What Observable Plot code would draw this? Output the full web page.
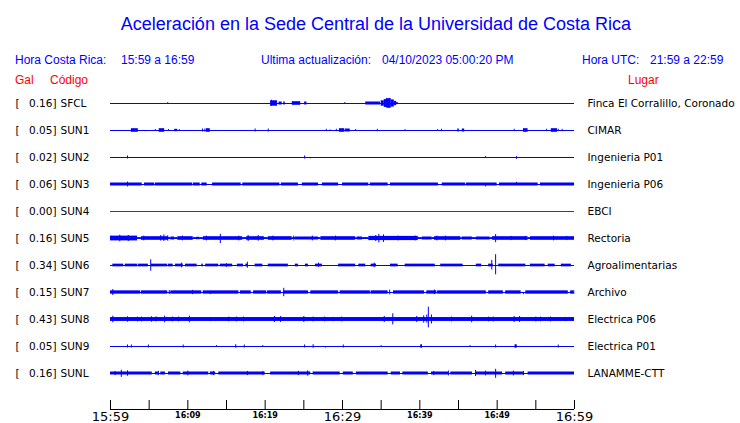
<!DOCTYPE html>
<html><head><meta charset="utf-8">
<script src="https://cdn.jsdelivr.net/npm/d3@7"></script>
<script src="https://cdn.jsdelivr.net/npm/@observablehq/plot@0.6"></script>
<style>
html,body{margin:0;padding:0;background:#fff;}
#page{position:relative;width:740px;height:423px;overflow:hidden;font-family:"Liberation Sans",Arial,sans-serif;}
#head{position:relative;height:88px;}
.t{position:absolute;white-space:pre;line-height:1;}
.b{color:#0000ff;font-size:12px;top:54px;}
.r{color:#ff0000;font-size:12px;top:74px;}
</style></head><body>
<div id="page">
<div id="head">
 <div class="t" style="left:6px;width:740px;text-align:center;top:15px;font-size:18px;color:#0000ff">Aceleración en la Sede Central de la Universidad de Costa Rica</div>
 <div class="t b" style="left:15px">Hora Costa Rica:</div>
 <div class="t b" style="left:121px">15:59 a 16:59</div>
 <div class="t b" style="left:261px">Ultima actualización:</div>
 <div class="t b" style="left:382px">04/10/2023 05:00:20 PM</div>
 <div class="t b" style="left:582px">Hora UTC:</div>
 <div class="t b" style="left:650px">21:59 a 22:59</div>
 <div class="t r" style="left:15px">Gal</div>
 <div class="t r" style="left:50px">Código</div>
 <div class="t r" style="left:628px">Lugar</div>
</div>
<div id="chart"></div>
</div>
<script>
// ---- stations ----
const codes = ["SFCL","SUN1","SUN2","SUN3","SUN4","SUN5","SUN6","SUN7","SUN8","SUN9","SUNL"];
const galValues = [0.16,0.05,0.02,0.06,0.00,0.16,0.34,0.15,0.43,0.05,0.16];
const places = ["Finca El Corralillo, Coronado","CIMAR","Ingenieria P01","Ingenieria P06","EBCI","Rectoria","Agroalimentarias","Archivo","Electrica P06","Electrica P01","LANAMME-CTT"];
const status = ["on","on","on","on","off","on","on","on","on","on","on"];

// ---- time axis (minutes after 15:59) ----
const tickMinutes = [0,5,10,15,20,25,30,35,40,45,50,55,60];
const majorMinutes = [0,30,60];
const majorLabels = ["15:59","16:29","16:59"];
const minorMinutes = [10,20,40,50];
const minorLabels = ["16:09","16:19","16:39","16:49"];

// ---- trace envelopes: bands [start min, end min, half-amplitude Gal] ----
const bandsSFCL = [[20.7,21.6,0.09],[21.8,22.2,0.05],[22.4,22.6,0.05],[23.5,24.6,0.06],[25.1,25.4,0.05],[33.0,34.9,0.05],[35.0,35.4,0.09],[35.4,35.8,0.13],[35.8,36.3,0.16],[36.3,36.7,0.12],[36.7,37.0,0.07],[37.0,37.2,0.035]];
const bandsSUN1 = [[2.7,3.6,0.06],[6.3,7.0,0.06],[8.3,8.7,0.04],[12.4,12.9,0.06],[29.6,30.3,0.06],[30.4,31.0,0.05],[44.9,45.1,0.05],[45.5,45.8,0.05],[53.4,54.0,0.06],[57.0,57.8,0.06]];
const bandsSUN2 = [];
const bandsSUN3 = [[0,4.1,0.05],[4.4,5.7,0.05],[5.8,10.6,0.05],[10.7,11.6,0.05],[11.8,12.5,0.05],[13.2,16.9,0.05],[17.1,21.9,0.05],[22.1,24.3,0.05],[24.8,26.9,0.05],[27.4,29.5,0.05],[30.0,33.4,0.05],[33.6,35.9,0.05],[36.2,42.4,0.05],[42.9,45.9,0.05],[46.0,50.0,0.05],[50.3,55.3,0.05],[55.6,60,0.05]];
const bandsSUN4 = [];
const bandsSUN5 = [[0,3.5,0.08],[3.5,4.0,0.03],[4.0,7.5,0.06],[7.5,7.8,0.03],[7.8,8.3,0.05],[8.3,8.7,0.03],[8.7,10.7,0.06],[10.7,11.1,0.03],[11.1,11.6,0.04],[11.6,12.0,0.03],[12.0,17.1,0.06],[17.1,17.6,0.03],[17.6,19.9,0.06],[19.9,20.4,0.03],[20.4,23.5,0.06],[23.5,23.9,0.03],[23.9,26.9,0.05],[26.9,27.2,0.03],[27.2,31.7,0.06],[31.7,31.9,0.03],[31.9,32.6,0.05],[32.6,33.4,0.03],[33.4,39.8,0.07],[39.8,40.3,0.03],[40.3,41.6,0.05],[41.6,41.9,0.03],[41.9,45.3,0.06],[45.3,45.5,0.03],[45.5,46.8,0.05],[46.8,47.3,0.03],[47.3,49.1,0.05],[49.1,49.4,0.03],[49.4,54.0,0.06],[54.0,54.3,0.03],[54.3,60,0.06]];
const bandsSUN6 = [[0.3,1.7,0.045],[1.9,3.5,0.045],[3.6,4.9,0.045],[5.3,7.4,0.045],[7.5,8.1,0.045],[8.4,9.4,0.045],[9.7,11.2,0.045],[11.8,12.0,0.045],[12.3,14.0,0.045],[14.2,15.8,0.045],[16.4,17.2,0.045],[17.5,17.8,0.045],[18.7,19.7,0.045],[20.4,23.0,0.045],[23.9,24.3,0.045],[25.2,25.6,0.045],[26.5,27.4,0.045],[29.5,31.7,0.045],[32.1,33.0,0.045],[33.7,34.4,0.045],[36.2,37.2,0.045],[38.1,42.0,0.045],[42.7,45.6,0.045],[47.3,48.0,0.045],[48.9,49.5,0.045],[50.2,53.7,0.045],[54.3,56.2,0.045],[56.6,57.5,0.045],[58.3,59.6,0.045]];
const bandsSUN7 = [[0,3.9,0.055],[4.0,7.4,0.055],[7.8,10.6,0.055],[10.7,11.8,0.055],[12.0,16.6,0.055],[16.8,18.2,0.055],[18.5,20.2,0.055],[20.4,22.1,0.055],[22.4,25.6,0.055],[25.9,29.5,0.055],[29.7,33.6,0.055],[33.7,35.9,0.055],[36.6,40.6,0.055],[40.9,42.2,0.055],[42.3,48.6,0.055],[48.9,50.8,0.055],[51.1,53.1,0.055],[53.7,59.2,0.055],[59.5,59.9,0.055]];
const bandsSUN8 = [[0,60,0.065]];
const bandsSUN9 = [[40.1,40.3,0.05],[52.3,52.6,0.05]];
const bandsSUNL = [[0,5.4,0.05],[5.8,6.2,0.05],[6.5,7.1,0.05],[7.5,9.1,0.05],[9.4,12.7,0.05],[12.9,13.6,0.05],[14.0,20.0,0.05],[20.7,25.9,0.05],[26.2,29.7,0.05],[30.1,31.4,0.05],[31.8,35.9,0.05],[36.3,37.5,0.05],[37.8,41.1,0.05],[41.5,43.7,0.05],[44.0,46.8,0.05],[47.2,50.7,0.05],[51.1,53.4,0.05],[54.0,60,0.05]];

// ---- spikes: [minute, up Gal, down Gal] ----
const spikesSFCL = [[7.4,0.03,0],[20.8,0.11,0.10],[30.3,0.03,0],[35.7,0.17,0.15],[36.1,0.17,0.13]];
const spikesSUN1 = [[0.5,0,0.03],[4.5,0,0.04],[5.8,0.03,0],[7.5,0.03,0],[8.9,0.03,0],[11.9,0.05,0.05],[12.2,0.05,0.05],[18.7,0.05,0.05],[20.4,0.05,0.05],[27.9,0.04,0.04],[28.4,0.02,0],[29.2,0.04,0.04],[31.7,0.03,0],[34.5,0.04,0.04],[38.1,0.03,0],[42.3,0.03,0],[42.8,0.04,0.04],[46.9,0,0.03],[48.5,0,0.03],[52.2,0.04,0.04],[54.7,0,0.03],[56.4,0.04,0.04],[57.9,0.04,0.04],[58.4,0.04,0.04]];
const spikesSUN2 = [[2.2,0.05,0.05],[8.7,0,0.03],[25.1,0.05,0.05],[25.8,0,0.04],[25.9,0,0.04],[48.5,0.03,0],[52.5,0.03,0.06]];
const spikesSUN3 = [[2.2,0.08,0.08],[48.5,0,0.08],[52.5,0.07,0]];
const spikesSUN4 = [];
const spikesSUN5 = [[1.2,0.11,0.11],[2.3,0.10,0.10],[4.3,0.08,0.08],[6.5,0.10,0.09],[6.9,0.12,0.10],[7.4,0.09,0.09],[9.3,0.08,0.08],[12.4,0.08,0.08],[14.2,0.14,0.17],[16.6,0.08,0.08],[17.8,0.10,0.10],[19.1,0.10,0.09],[21.0,0.08,0.08],[23.7,0.08,0.08],[26.1,0.08,0.08],[29.1,0.08,0.08],[34.3,0.10,0.10],[34.7,0.14,0.15],[35.3,0.12,0.13],[37.2,0.08,0.08],[39.4,0.08,0.08],[42.2,0.08,0.08],[43.3,0.08,0.08],[49.8,0.13,0.14],[51.8,0.07,0.07],[53.7,0.07,0.07],[57.3,0.08,0.08],[59.0,0.07,0.07]];
const spikesSUN6 = [[5.2,0.19,0.19],[9.2,0.08,0.08],[15.0,0.06,0.06],[17.7,0.11,0.09],[26.9,0.08,0.06],[34.1,0.08,0.07],[49.3,0.17,0.15],[49.8,0.36,0.31]];
const spikesSUN7 = [[0.3,0.10,0.10],[7.6,0.07,0.07],[10.6,0.07,0.07],[12.9,0,0.07],[20.3,0.05,0.05],[22.4,0.14,0.14],[36.1,0.08,0.08],[41.9,0.08,0.07],[53.4,0,0.07],[59.9,0.06,0.06]];
const spikesSUN8 = [[0.3,0.11,0.11],[2.2,0.09,0.09],[3.5,0.08,0.08],[4.0,0.08,0.08],[5.3,0.09,0.09],[5.9,0.09,0.08],[7.0,0.11,0.11],[8.0,0.08,0.08],[8.8,0.08,0.08],[10.2,0.11,0.11],[12.9,0.07,0.07],[15.3,0.08,0.08],[16.3,0.08,0.08],[17.2,0.08,0.08],[21.2,0.10,0.10],[22.0,0.10,0.10],[25.0,0.10,0.10],[26.2,0.08,0.08],[27.7,0.08,0.08],[28.8,0.07,0.07],[29.9,0.08,0.08],[35.4,0.10,0.10],[36.5,0.19,0.18],[39.6,0.10,0.10],[40.5,0.12,0.12],[40.9,0.15,0.12],[41.1,0.41,0.28],[41.5,0.15,0.15],[44.1,0.08,0.08],[46.7,0.11,0.11],[48.9,0.08,0.08],[49.5,0.08,0.08],[52.2,0.10,0.10],[52.9,0.10,0.10],[55.0,0.08,0.08],[55.6,0.08,0.08],[56.9,0.08,0.08],[58.8,0.07,0.07]];
const spikesSUN9 = [[2.2,0.05,0.05],[2.7,0.05,0.05],[4.9,0.05,0.05],[8.7,0,0.03],[9.4,0.05,0.05],[13.7,0.03,0],[16.2,0.06,0.06],[16.7,0,0.03],[17.3,0.05,0.05],[19.7,0.03,0],[25.1,0.05,0.05],[26.2,0.06,0.06],[27.8,0,0.05],[30.1,0.05,0.05],[32.3,0,0.03],[35.0,0.03,0],[40.2,0.06,0.06],[45.0,0,0.03],[46.5,0.03,0],[48.5,0,0.03],[49.8,0.05,0.05],[52.4,0.06,0.06],[55.3,0,0.03],[57.9,0.05,0.05]];
const spikesSUNL = [[0.6,0.07,0.07],[1.4,0.11,0.13],[2.2,0.09,0.09],[6.2,0.07,0.07],[10.0,0.08,0.08],[13.3,0.07,0.07],[17.7,0.07,0.07],[19.7,0.07,0.07],[24.3,0.07,0.07],[25.5,0.09,0.09],[41.8,0.07,0.07],[43.7,0.08,0.08],[47.2,0.10,0.10],[48.5,0.08,0.08],[49.8,0.14,0.16],[52.1,0.08,0.08],[53.4,0.07,0.07]];

const bandSets = [bandsSFCL,bandsSUN1,bandsSUN2,bandsSUN3,bandsSUN4,bandsSUN5,bandsSUN6,bandsSUN7,bandsSUN8,bandsSUN9,bandsSUNL];
const spikeSets = [spikesSFCL,spikesSUN1,spikesSUN2,spikesSUN3,spikesSUN4,spikesSUN5,spikesSUN6,spikesSUN7,spikesSUN8,spikesSUN9,spikesSUNL];

// ---- build tables ----
const T0 = Date.UTC(2023, 3, 10, 15, 59);
const T = (m) => new Date(T0 + m * 60000);
const ROW = 0.9;              // row spacing in Gal units
const Y_TOP = 0.45, Y_BOTTOM = -10.2;

const rows = codes.map((code, i) => ({code, gal: galValues[i], place: places[i], status: status[i], off: -i * ROW}));
const bandRows = rows.flatMap((r, i) => bandSets[i].map(([a, b, amp]) => ({status: r.status, x1: T(a), x2: T(b), y1: r.off - amp, y2: r.off + amp})));
const spikeRows = rows.flatMap((r, i) => spikeSets[i].map(([m, up, down]) => ({status: r.status, x: T(m), y1: r.off - down, y2: r.off + up})));

const labelMap = new Map([...majorMinutes.map((m, i) => [+T(m), majorLabels[i]]), ...minorMinutes.map((m, i) => [+T(m), minorLabels[i]])]);

const chart = Plot.plot({
  width: 740, height: 335,
  marginLeft: 110, marginRight: 166, marginTop: 1.5, marginBottom: 14,
  x: {type: "utc", domain: [T(0), T(60)]},
  y: {domain: [Y_BOTTOM, Y_TOP], axis: null},
  color: {domain: ["on", "off"], range: ["#0000ff", "#dd0000"]},
  style: {fontFamily: "DejaVu Sans", fontSize: "10.5px", color: "black", background: "white", overflow: "visible"},
  marks: [
    Plot.ruleY(rows, {y: "off", stroke: "status", strokeWidth: 1}),
    Plot.rect(bandRows, {x1: "x1", x2: "x2", y1: "y1", y2: "y2", fill: "status"}),
    Plot.ruleX(spikeRows, {x: "x", y1: "y1", y2: "y2", stroke: "status", strokeWidth: 1}),
    Plot.text(rows, {y: "off", text: () => "[", frameAnchor: "left", dx: -95, textAnchor: "start"}),
    Plot.text(rows, {y: "off", text: d => d.gal.toFixed(2) + "]", frameAnchor: "left", dx: -54, textAnchor: "end"}),
    Plot.text(rows, {y: "off", text: "code", frameAnchor: "left", dx: -50, textAnchor: "start"}),
    Plot.text(rows, {y: "off", text: "place", frameAnchor: "right", dx: 13, textAnchor: "start"}),
    Plot.ruleY([Y_BOTTOM], {stroke: "black"}),
    Plot.axisX(tickMinutes.map(T), {tickSize: -9, fill: "none", stroke: "black", label: null}),
    Plot.axisX(majorMinutes.map(T), {tickSize: 0, tickPadding: 2, fontSize: 13, tickFormat: d => labelMap.get(+d), label: null}),
    Plot.axisX(minorMinutes.map(T), {tickSize: 0, tickPadding: 2.5, fontSize: 8, fontWeight: "bold", tickFormat: d => labelMap.get(+d), label: null})
  ]
});
document.getElementById("chart").appendChild(chart);
</script>
</body></html>
